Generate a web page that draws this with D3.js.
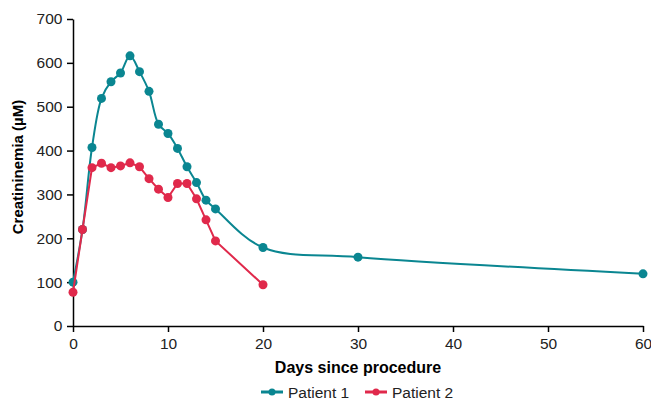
<!DOCTYPE html>
<html><head><meta charset="utf-8">
<script src="https://cdn.jsdelivr.net/npm/d3@7"></script>
<style>body{margin:0;background:#fff;} text{font-family:"Liberation Sans",Arial,sans-serif;}</style>
</head><body>
<svg id="c" width="651" height="399"></svg>
<script>
const days1 = [0,1,2,3,4,5,6,7,8,9,10,11,12,13,14,15,20,30,60];
const patient1 = [100,220,407,519,557,577,616,580,535,460,439,405,363,327,287,267,179,157,119];
const days2 = [0,1,2,3,4,5,6,7,8,9,10,11,12,13,14,15,20];
const patient2 = [77,220,361,371,361,365,372,363,336,312,293,325,325,290,242,194,94];
const xTicks = [0,10,20,30,40,50,60];
const yTicks = [0,100,200,300,400,500,600,700];
const seriesNames = ["Patient 1","Patient 2"];
const colors = ["#0a8691","#e0294b"];

const svg = d3.select("#c");
const x = d3.scaleLinear().domain([0,60]).range([73,643]);
const y = d3.scaleLinear().domain([0,700]).range([326,19]);

const xa = svg.append("g").attr("transform","translate(0,326)")
  .call(d3.axisBottom(x).tickValues(xTicks).tickSize(6).tickSizeOuter(0));
const ya = svg.append("g").attr("transform","translate(73,0)")
  .call(d3.axisLeft(y).tickValues(yTicks).tickSize(6).tickSizeOuter(0));
[xa,ya].forEach(a=>{
  a.selectAll("path,line").attr("stroke","#000").attr("stroke-width",1.5);
  a.selectAll("text").attr("font-size",15.5).attr("fill","#222").style("font-family","Liberation Sans, Arial, sans-serif");
});
xa.selectAll("text").attr("dy","0.9em");
ya.selectAll("text").attr("dx","-0.1em");

svg.append("text").attr("x",358).attr("y",373).attr("text-anchor","middle")
  .attr("font-size",16).attr("font-weight","bold").text("Days since procedure");
svg.append("text").attr("transform","translate(23,167) rotate(-90)").attr("text-anchor","middle")
  .attr("font-size",15).attr("font-weight","bold").text("Creatininemia (\u00b5M)");

const data = [
  {d:days1, v:patient1, curve:d3.curveCatmullRom.alpha(0.5)},
  {d:days2, v:patient2, curve:d3.curveLinear}
];
data.forEach((s,i)=>{
  const pts = s.d.map((d,j)=>[d,s.v[j]]);
  const line = d3.line().x(p=>x(p[0])).y(p=>y(p[1])).curve(s.curve);
  const g = svg.append("g");
  g.append("path").attr("d",line(pts)).attr("fill","none").attr("stroke",colors[i]).attr("stroke-width",2);
  g.selectAll("circle").data(pts).join("circle").attr("cx",p=>x(p[0])).attr("cy",p=>y(p[1]))
    .attr("r",4.5).attr("fill",colors[i]);
});

// legend
const lg = svg.append("g");
const lx = [261, 365];
seriesNames.forEach((n,i)=>{
  const g = lg.append("g").attr("transform",`translate(${lx[i]},392)`);
  g.append("line").attr("x1",0).attr("x2",22).attr("y1",0).attr("y2",0).attr("stroke",colors[i]).attr("stroke-width",3);
  g.append("circle").attr("cx",11).attr("cy",0).attr("r",3.5).attr("fill",colors[i]);
  g.append("text").attr("x",27).attr("y",5.5).attr("font-size",15.5).attr("fill","#222").text(n);
});
</script>
</body></html>
